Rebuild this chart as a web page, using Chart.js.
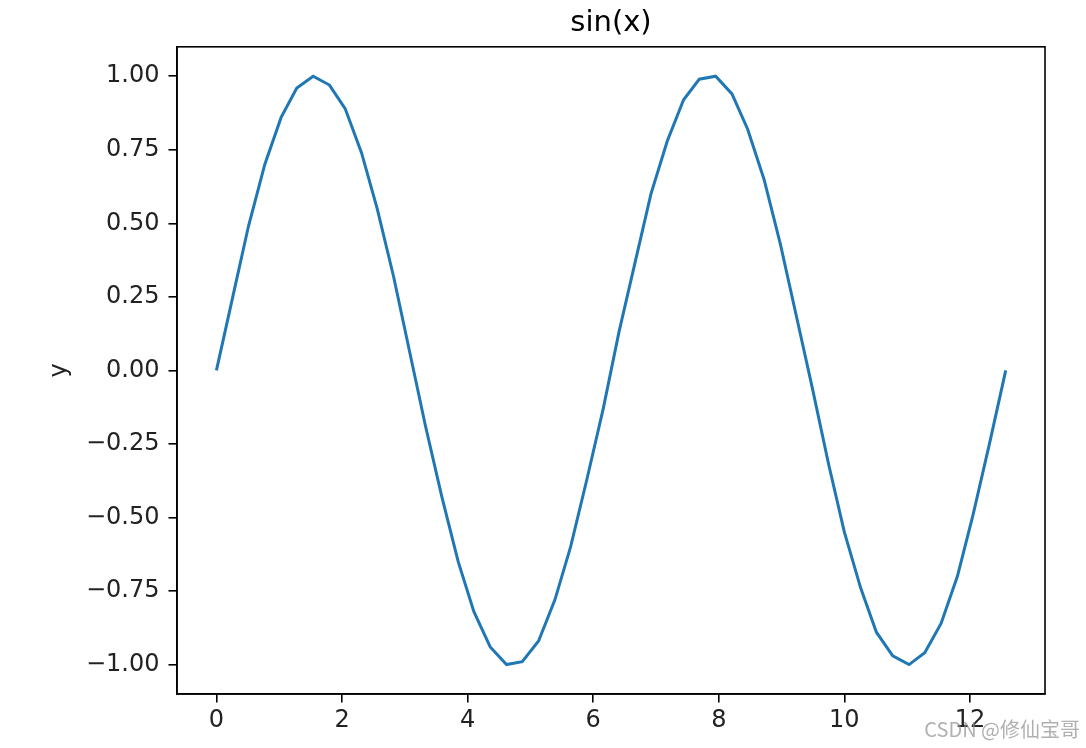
<!DOCTYPE html>
<html>
<head>
<meta charset="utf-8">
<script src="https://cdn.jsdelivr.net/npm/chart.js@4/dist/chart.umd.min.js"></script>
<style>
  body { margin: 0; background: #fff; }
  canvas { display: block; }
</style>
</head>
<body>
<canvas id="chart" width="1086" height="748"></canvas>
<script>
const xValues = [0, 0.26, 0.51, 0.77, 1.03, 1.28, 1.54, 1.80, 2.05, 2.31,
  2.56, 2.82, 3.08, 3.33, 3.59, 3.85, 4.10, 4.36, 4.62, 4.87,
  5.13, 5.39, 5.64, 5.90, 6.16, 6.41, 6.67, 6.92, 7.18, 7.44,
  7.69, 7.95, 8.21, 8.46, 8.72, 8.98, 9.23, 9.49, 9.75, 10.00,
  10.26, 10.51, 10.77, 11.03, 11.28, 11.54, 11.80, 12.05, 12.31, 12.57]
const yValues = [0, 0.25, 0.49, 0.70, 0.86, 0.96, 1.00, 0.97, 0.89, 0.74,
  0.55, 0.32, 0.06, -0.19, -0.43, -0.65, -0.82, -0.94, -1.00, -0.99,
  -0.92, -0.78, -0.60, -0.37, -0.13, 0.13, 0.37, 0.60, 0.78, 0.92,
  0.99, 1.00, 0.94, 0.82, 0.65, 0.43, 0.19, -0.06, -0.32, -0.55,
  -0.74, -0.89, -0.97, -1.00, -0.96, -0.86, -0.70, -0.49, -0.25, 0.00]

const xTicks = [0, 2, 4, 6, 8, 10, 12]
const yTicks = [-1.00, -0.75, -0.50, -0.25, 0.00, 0.25, 0.50, 0.75, 1.00]

const titleText = 'sin(x)'
const yLabel = 'y'
const watermark = 'CSDN @修仙宝哥'

const FONT = "'DejaVu Sans', sans-serif"

let points = []
for (let i = 0; i < xValues.length; i++) {
  points.push({x: xValues[i], y: yValues[i]})
}

// matplotlib style box around the axes + watermark
const frame = {
  id: 'frame',
  afterDraw(chart) {
    const ctx = chart.ctx
    const a = chart.chartArea
    ctx.save()
    ctx.strokeStyle = '#000'
    ctx.lineWidth = 1.6
    ctx.strokeRect(a.left, a.top, a.right - a.left, a.bottom - a.top)
    ctx.font = "20px 'Noto Sans CJK SC', sans-serif"
    ctx.textAlign = 'right'
    ctx.textBaseline = 'middle'
    ctx.fillStyle = 'rgba(150,150,150,0.75)'
    ctx.fillText(watermark, 1080, 729)
    ctx.restore()
  }
}

new Chart(document.getElementById('chart'), {
  type: 'line',
  data: {
    datasets: [{
      data: points,
      borderColor: '#1f77b4',
      borderWidth: 3,
      pointRadius: 0,
      tension: 0,
      fill: false
    }]
  },
  options: {
    responsive: false,
    animation: false,
    devicePixelRatio: 1,
    layout: { padding: { left: 0, right: 41, top: 0, bottom: 0 } },
    plugins: {
      legend: { display: false },
      tooltip: { enabled: false },
      title: {
        display: true,
        text: titleText,
        fullSize: false,
        color: '#000',
        font: { family: FONT, size: 29, weight: 'normal' },
        padding: { top: 6, bottom: 6 }
      }
    },
    scales: {
      x: {
        type: 'linear',
        min: -0.628,
        max: 13.195,
        afterBuildTicks: (scale) => { scale.ticks = xTicks.map(v => ({value: v})) },
        afterFit: (scale) => { scale.height = 54 },
        grid: { drawOnChartArea: false, drawTicks: true, tickLength: 8.5, color: '#000', lineWidth: 1.6 },
        border: { display: true, color: '#000', width: 1.6 },
        ticks: {
          color: '#222',
          font: { family: FONT, size: 24 },
          padding: 4,
          maxRotation: 0,
          autoSkip: false,
          callback: (v) => String(v)
        }
      },
      y: {
        min: -1.1,
        max: 1.1,
        afterBuildTicks: (scale) => { scale.ticks = yTicks.map(v => ({value: v})) },
        afterFit: (scale) => { scale.width = 177 },
        grid: { drawOnChartArea: false, drawTicks: true, tickLength: 8.5, color: '#000', lineWidth: 1.6 },
        border: { display: true, color: '#000', width: 1.6 },
        title: {
          display: true,
          text: yLabel,
          color: '#222',
          font: { family: FONT, size: 24 },
          padding: { top: 45, bottom: 0 }
        },
        ticks: {
          color: '#222',
          font: { family: FONT, size: 24 },
          padding: 9,
          autoSkip: false,
          callback: (v) => v.toFixed(2).replace('-', '\u2212')
        }
      }
    }
  },
  plugins: [frame]
})
</script>
</body>
</html>
